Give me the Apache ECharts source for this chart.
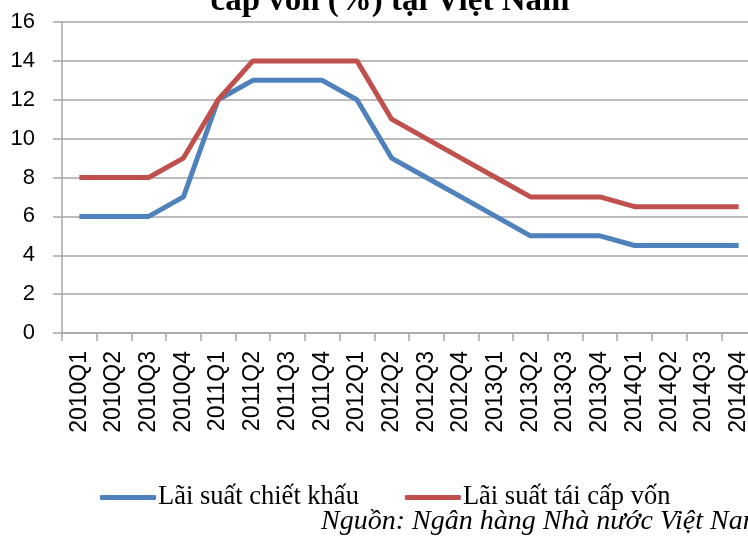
<!DOCTYPE html>
<html>
<head>
<meta charset="utf-8">
<script src="https://cdn.jsdelivr.net/npm/echarts@6/dist/echarts.min.js"></script>
<style>
html,body{margin:0;padding:0;background:#fff;overflow:hidden;width:748px;height:536px;}
#chart{width:760px;height:536px;}
</style>
</head>
<body>
<div id="chart"></div>
<script>
const categories = ['2010Q1','2010Q2','2010Q3','2010Q4','2011Q1','2011Q2','2011Q3','2011Q4','2012Q1','2012Q2','2012Q3','2012Q4','2013Q1','2013Q2','2013Q3','2013Q4','2014Q1','2014Q2','2014Q3','2014Q4'];
const chietKhau = [6,6,6,7,12,13,13,13,12,9,8,7,6,5,5,5,4.5,4.5,4.5,4.5];
const taiCapVon = [8,8,8,9,12,14,14,14,14,11,10,9,8,7,7,7,6.5,6.5,6.5,6.5];
const seriesNames = ['Lãi suất chiết khấu','Lãi suất tái cấp vốn'];
const titleText = 'cấp vốn (%) tại Việt Nam';
const sourceText = 'Nguồn: Ngân hàng Nhà nước Việt Nam';

const chart = echarts.init(document.getElementById('chart'));
const gray = '#a6a6a6';
chart.setOption({
  animation: false,
  backgroundColor: '#fff',
  title: {
    text: titleText,
    left: 385,
    textAlign: 'center',
    top: -20,
    textStyle: {fontFamily: 'Liberation Serif', fontWeight: 'bold', fontSize: 33, color: '#000'}
  },
  legend: {
    left: 100,
    top: 484,
    padding: 0,
    itemWidth: 56,
    itemHeight: 5,
    itemGap: 46,
    icon: 'roundRect',
    textStyle: {fontFamily: 'Liberation Serif', fontSize: 26.5, color: '#000', padding: [0,0,0,-3]},
    data: seriesNames
  },
  graphic: [{
    type: 'text',
    left: 321,
    top: 508,
    style: {text: sourceText, font: 'italic 28px "Liberation Serif"', fill: '#000'}
  }],
  grid: {left: 62, top: 22, width: 694, height: 311, containLabel: false},
  xAxis: {
    type: 'category',
    data: categories,
    boundaryGap: true,
    axisLine: {lineStyle: {color: gray, width: 1.5}},
    axisTick: {show: true, length: 8, interval: 0, lineStyle: {color: gray, width: 1.5}},
    axisLabel: {rotate: 90, interval: 0, margin: 18, fontFamily: 'Liberation Sans', fontSize: 23, color: '#000'}
  },
  yAxis: {
    type: 'value',
    min: 0, max: 16, interval: 2,
    axisLine: {show: true, lineStyle: {color: gray, width: 1.5}},
    axisTick: {show: true, length: 9, lineStyle: {color: gray, width: 1.5}},
    splitLine: {lineStyle: {color: gray, width: 1.5}},
    axisLabel: {margin: 27, fontFamily: 'Liberation Sans', fontSize: 22, color: '#000'}
  },
  series: [
    {name: seriesNames[0], type: 'line', data: chietKhau, showSymbol: false, color: '#4f81bd', lineStyle: {width: 5, color: '#4f81bd'}},
    {name: seriesNames[1], type: 'line', data: taiCapVon, showSymbol: false, color: '#c0504d', lineStyle: {width: 5, color: '#c0504d'}}
  ]
});
</script>
</body>
</html>
